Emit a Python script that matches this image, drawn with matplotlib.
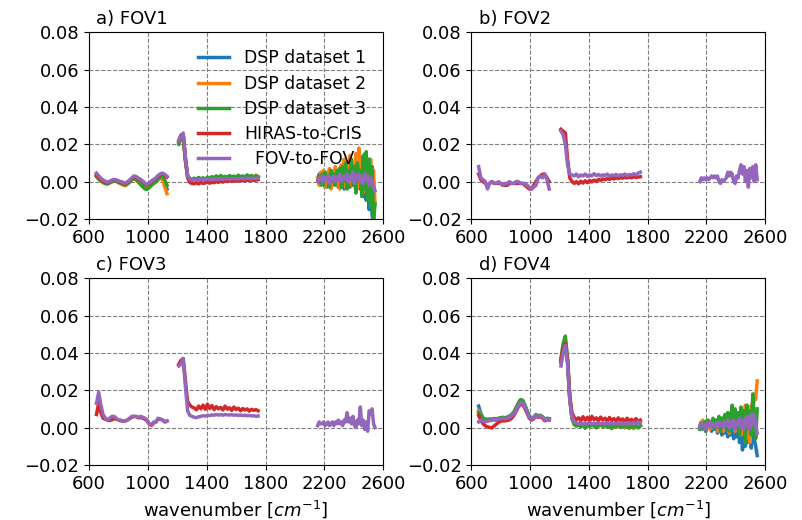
import numpy as np
import matplotlib
matplotlib.use("Agg")
import matplotlib.pyplot as plt

# spectral sample grids for the three bands [cm^-1]
wn_lw = np.arange(650, 1131, 15)
wn_mw = np.arange(1210, 1751, 15)
wn_sw = np.arange(2155, 2546, 10)

series_labels = ["DSP dataset 1", "DSP dataset 2", "DSP dataset 3",
                 "HIRAS-to-CrIS", "  FOV-to-FOV"]
panel_titles = ["a) FOV1", "b) FOV2", "c) FOV3", "d) FOV4"]

# ---------------- FOV1 ----------------
fov1_dsp1_lw = [0.0030, 0.0018, 0.0006, -0.0002, -0.0008, -0.0010, -0.0005, 0.0002, 0.0005, 0.0003, -0.0002,
                -0.0008, -0.0012, -0.0016, -0.0010, 0.0000, 0.0012, 0.0020, 0.0014, 0.0002, -0.0010, -0.0020,
                -0.0030, -0.0033, -0.0025, -0.0015, -0.0008, 0.0002, 0.0018, 0.0028, 0.0030, -0.0010, -0.0040]
fov1_dsp2_lw = [0.0025, 0.0012, 0.0002, -0.0006, -0.0012, -0.0014, -0.0008, -0.0002, 0.0002, 0.0000, -0.0006,
                -0.0012, -0.0018, -0.0022, -0.0015, -0.0004, 0.0008, 0.0015, 0.0008, -0.0004, -0.0016, -0.0026,
                -0.0034, -0.0036, -0.0028, -0.0018, -0.0010, -0.0002, 0.0010, 0.0016, 0.0012, -0.0030, -0.0065]
fov1_dsp3_lw = [0.0028, 0.0015, 0.0004, -0.0004, -0.0010, -0.0012, -0.0006, 0.0000, 0.0004, 0.0002, -0.0004,
                -0.0010, -0.0015, -0.0019, -0.0012, -0.0002, 0.0010, 0.0017, 0.0010, -0.0002, -0.0014, -0.0028,
                -0.0040, -0.0042, -0.0032, -0.0020, -0.0010, 0.0000, 0.0014, 0.0024, 0.0026, 0.0008, -0.0020]
fov1_hiras_lw = [0.0035, 0.0022, 0.0010, 0.0002, -0.0004, -0.0006, -0.0002, 0.0005, 0.0008, 0.0006, 0.0001,
                 -0.0003, -0.0007, -0.0011, -0.0005, 0.0005, 0.0016, 0.0026, 0.0023, 0.0014, 0.0008, -0.0001,
                 -0.0012, -0.0018, -0.0012, 0.0000, 0.0008, 0.0016, 0.0028, 0.0037, 0.0040, 0.0033, 0.0024]
fov1_fov_lw = [0.0045, 0.0030, 0.0018, 0.0008, 0.0002, -0.0003, 0.0001, 0.0008, 0.0011, 0.0009, 0.0004,
               0.0000, -0.0004, -0.0008, -0.0002, 0.0008, 0.0020, 0.0030, 0.0027, 0.0018, 0.0012, 0.0003,
               -0.0008, -0.0014, -0.0008, 0.0004, 0.0012, 0.0020, 0.0033, 0.0042, 0.0045, 0.0038, 0.0028]

fov1_dsp1_mw = [0.021, 0.024, 0.025, 0.012, 0.003, 0.0015, 0.0008, 0.0016, 0.0010, 0.0020, 0.0012, 0.0018,
                0.0008, 0.0022, 0.0014, 0.0025, 0.0016, 0.0028, 0.0018, 0.0030, 0.0020, 0.0026, 0.0018, 0.0030,
                0.0022, 0.0027, 0.0018, 0.0032, 0.0022, 0.0028, 0.0020, 0.0033, 0.0024, 0.0030, 0.0020, 0.0032, 0.0026]
fov1_dsp2_mw = [0.021, 0.023, 0.025, 0.012, 0.003, 0.0012, 0.0005, 0.0014, 0.0008, 0.0018, 0.0010, 0.0016,
                0.0006, 0.0020, 0.0012, 0.0022, 0.0014, 0.0026, 0.0016, 0.0028, 0.0018, 0.0024, 0.0016, 0.0028,
                0.0020, 0.0025, 0.0016, 0.0030, 0.0020, 0.0026, 0.0018, 0.0031, 0.0022, 0.0028, 0.0018, 0.0034, 0.0024]
fov1_dsp3_mw = [0.020, 0.023, 0.024, 0.011, 0.003, 0.0016, 0.0010, 0.0018, 0.0012, 0.0022, 0.0014, 0.0020,
                0.0010, 0.0024, 0.0016, 0.0026, 0.0018, 0.0030, 0.0020, 0.0032, 0.0022, 0.0028, 0.0020, 0.0032,
                0.0024, 0.0029, 0.0020, 0.0034, 0.0024, 0.0030, 0.0022, 0.0035, 0.0026, 0.0032, 0.0022, 0.0030, 0.0024]
fov1_hiras_mw = [0.022, 0.025, 0.025, 0.012, 0.002, -0.0005, -0.0010, -0.0012, -0.0006, -0.0013, -0.0004,
                 -0.0010, -0.0007, -0.0002, -0.0009, -0.0003, -0.0006, 0.0000, -0.0004, 0.0002, -0.0003, 0.0003,
                 0.0000, 0.0004, 0.0001, 0.0005, 0.0002, 0.0006, 0.0003, 0.0007, 0.0004, 0.0008, 0.0005, 0.0009,
                 0.0006, 0.0008, 0.0010]
fov1_fov_mw = [0.022, 0.024, 0.026, 0.013, 0.003, 0.0012, 0.0008, 0.0010, 0.0012, 0.0009, 0.0013, 0.0011,
               0.0010, 0.0014, 0.0012, 0.0011, 0.0015, 0.0013, 0.0016, 0.0014, 0.0012, 0.0016, 0.0015, 0.0013,
               0.0017, 0.0015, 0.0016, 0.0014, 0.0018, 0.0016, 0.0015, 0.0019, 0.0017, 0.0016, 0.0018, 0.0017, 0.0019]

fov1_dsp1_sw = [0.001, 0.004, -0.002, 0.005, 0.000, 0.004, -0.003, 0.005, 0.001, 0.006, -0.002, 0.004, 0.002,
                0.006, -0.003, 0.007, 0.000, 0.005, -0.004, 0.008, 0.001, 0.006, -0.003, 0.009, 0.002, 0.004,
                -0.006, 0.010, 0.003, -0.004, 0.008, -0.008, 0.006, -0.010, 0.004, -0.015, 0.002, -0.018,
                -0.022, -0.027]
fov1_dsp2_sw = [0.002, -0.002, 0.005, 0.000, 0.006, -0.003, 0.004, 0.001, 0.007, -0.004, 0.005, 0.000, 0.008,
                -0.002, 0.006, -0.004, 0.009, 0.002, 0.012, -0.003, 0.010, 0.000, 0.014, -0.002, 0.008, 0.004,
                0.015, -0.004, 0.018, 0.002, 0.012, -0.006, 0.015, 0.000, 0.010, -0.008, 0.012, -0.004, 0.006,
                -0.012]
fov1_dsp3_sw = [0.000, 0.003, -0.001, 0.004, -0.002, 0.005, 0.001, 0.003, -0.003, 0.006, 0.000, 0.004, -0.002,
                0.006, 0.001, 0.007, -0.003, 0.008, 0.000, 0.010, -0.004, 0.006, 0.002, 0.012, -0.002, 0.008,
                -0.006, 0.010, 0.003, 0.006, -0.008, 0.014, -0.004, 0.016, -0.010, 0.012, -0.014, 0.008,
                -0.022, -0.012]
fov1_fov_sw = [0.000, 0.002, 0.001, 0.003, 0.000, 0.002, 0.001, 0.003, -0.001, 0.002, 0.001, 0.003, 0.000,
               0.002, 0.001, 0.004, 0.000, 0.002, 0.003, 0.001, 0.004, 0.000, 0.003, 0.001, 0.005, -0.001,
               0.003, 0.002, 0.004, 0.000, 0.003, -0.001, 0.004, 0.001, 0.003, -0.002, 0.002, 0.000, -0.003,
               -0.005]

# ---------------- FOV2 ----------------
fov2_hiras_lw = [0.004, 0.001, 0.000, -0.001, -0.002, -0.001, 0.000, -0.001, -0.001, -0.001, -0.001, -0.002,
                 -0.002, -0.002, -0.001, -0.001, -0.001, -0.001, -0.001, -0.001, -0.001, -0.002, -0.003,
                 -0.004, -0.004, -0.002, 0.000, 0.002, 0.003, 0.004, 0.004, 0.002, 0.000]
fov2_fov_lw = [0.008, 0.002, 0.001, 0.000, -0.004, -0.001, 0.000, -0.001, -0.001, 0.000, -0.001, -0.002,
               -0.001, -0.001, 0.000, -0.001, -0.001, 0.000, 0.000, -0.001, -0.001, -0.001, -0.002, -0.003,
               -0.004, -0.003, -0.002, 0.002, 0.003, 0.002, 0.004, 0.001, -0.004]
fov2_hiras_mw = [0.028, 0.027, 0.026, 0.012, 0.002, 0.000, -0.001, 0.000, -0.0012, 0.0002, -0.0008, 0.0004,
                 -0.0006, 0.0006, -0.0002, 0.0008, 0.0000, 0.0012, 0.0006, 0.0014, 0.0010, 0.0016, 0.0012,
                 0.0018, 0.0014, 0.0020, 0.0016, 0.0022, 0.0018, 0.0022, 0.0020, 0.0024, 0.0020, 0.0026,
                 0.0022, 0.0024, 0.0026]
fov2_fov_mw = [0.027, 0.025, 0.020, 0.009, 0.004, 0.0035, 0.003, 0.004, 0.0025, 0.0035, 0.003, 0.004, 0.0028,
               0.0036, 0.003, 0.0042, 0.0032, 0.0038, 0.003, 0.0036, 0.0032, 0.004, 0.0028, 0.0035, 0.0032,
               0.0038, 0.003, 0.0036, 0.0034, 0.004, 0.0032, 0.0038, 0.0035, 0.0042, 0.0036, 0.0045, 0.005]
fov2_fov_sw = [0.000, 0.002, 0.001, 0.002, 0.001, 0.002, 0.001, 0.002, 0.003, 0.002, 0.003, 0.002, 0.003,
               0.000, -0.001, 0.001, 0.000, 0.001, 0.002, 0.005, 0.003, 0.005, 0.004, 0.000, -0.001, 0.003,
               0.002, 0.006, 0.009, 0.004, 0.008, 0.000, 0.006, -0.003, 0.007, 0.002, 0.008, 0.000, 0.009,
               0.001]

# ---------------- FOV3 ----------------
fov3_hiras_lw = [0.007, 0.013, 0.008, 0.005, 0.0045, 0.004, 0.0038, 0.0042, 0.0048, 0.0045, 0.004, 0.0036,
                 0.0034, 0.0035, 0.004, 0.0048, 0.0055, 0.006, 0.0058, 0.0052, 0.0054, 0.005, 0.0045, 0.0035,
                 0.0018, 0.0012, 0.0025, 0.003, 0.0048, 0.0045, 0.004, 0.003, 0.0035]
fov3_fov_lw = [0.013, 0.019, 0.012, 0.007, 0.005, 0.004, 0.005, 0.006, 0.006, 0.005, 0.004, 0.004, 0.0035,
               0.0035, 0.004, 0.005, 0.006, 0.006, 0.006, 0.0055, 0.006, 0.0055, 0.005, 0.004, 0.002, 0.0015,
               0.003, 0.003, 0.005, 0.0045, 0.004, 0.003, 0.0035]
fov3_hiras_mw = [0.034, 0.036, 0.037, 0.025, 0.014, 0.012, 0.011, 0.0105, 0.0095, 0.0115, 0.010, 0.012,
                 0.0098, 0.0125, 0.0102, 0.0118, 0.0096, 0.0112, 0.0100, 0.0108, 0.0094, 0.0115, 0.0098,
                 0.0106, 0.0092, 0.0110, 0.0096, 0.0104, 0.0090, 0.0102, 0.0094, 0.0100, 0.0088, 0.0098,
                 0.0092, 0.0096, 0.0090]
fov3_fov_mw = [0.033, 0.034, 0.037, 0.022, 0.009, 0.0065, 0.006, 0.0055, 0.0053, 0.0058, 0.006, 0.0063,
               0.0062, 0.0066, 0.0064, 0.0068, 0.0066, 0.007, 0.0067, 0.0069, 0.0066, 0.007, 0.0068, 0.0067,
               0.0069, 0.0066, 0.0068, 0.0065, 0.0067, 0.0064, 0.0066, 0.0063, 0.0065, 0.0062, 0.0064, 0.006,
               0.0062]
fov3_fov_sw = [0.001, 0.003, 0.002, 0.002, 0.003, 0.001, 0.002, 0.003, 0.001, 0.002, 0.003, 0.001, 0.003,
               0.002, 0.004, 0.002, 0.003, 0.001, 0.004, 0.003, 0.008, 0.003, 0.005, 0.002, 0.006, 0.001,
               0.000, 0.004, 0.002, 0.011, 0.001, 0.004, -0.001, 0.003, -0.002, 0.009, 0.007, 0.010, 0.002,
               0.000]

# ---------------- FOV4 ----------------
fov4_dsp1_lw = [0.0115, 0.0075, 0.005, 0.0038, 0.0036, 0.0038, 0.004, 0.0043, 0.0042, 0.0046, 0.005, 0.0052,
                0.005, 0.0053, 0.0058, 0.0066, 0.008, 0.0102, 0.0125, 0.0142, 0.014, 0.0116, 0.0088, 0.006,
                0.0048, 0.0055, 0.0068, 0.006, 0.0064, 0.0056, 0.0042, 0.0048, 0.0045]
fov4_dsp2_lw = [0.009, 0.0065, 0.0045, 0.0035, 0.0034, 0.0037, 0.0039, 0.0042, 0.0041, 0.0045, 0.0049,
                0.0051, 0.0049, 0.0052, 0.0057, 0.0064, 0.0078, 0.010, 0.0123, 0.014, 0.0138, 0.0114, 0.0086,
                0.0058, 0.0046, 0.0053, 0.0066, 0.0058, 0.0062, 0.0054, 0.004, 0.0046, 0.0044]
fov4_dsp3_lw = [0.008, 0.0065, 0.005, 0.0045, 0.0045, 0.0046, 0.0046, 0.0048, 0.0046, 0.005, 0.0053, 0.0055,
                0.0053, 0.0056, 0.0062, 0.007, 0.0085, 0.0108, 0.0132, 0.015, 0.0146, 0.012, 0.009, 0.0062,
                0.005, 0.0056, 0.007, 0.0062, 0.0066, 0.0058, 0.0044, 0.005, 0.0048]
fov4_hiras_lw = [0.0065, 0.004, 0.002, 0.001, 0.0004, 0.0000, -0.0002, 0.0008, 0.0018, 0.0028, 0.0034,
                 0.0036, 0.0036, 0.0038, 0.0042, 0.005, 0.0065, 0.0088, 0.011, 0.0126, 0.0124, 0.0102, 0.0076,
                 0.005, 0.004, 0.0048, 0.006, 0.0055, 0.0058, 0.005, 0.0036, 0.0042, 0.004]
fov4_fov_lw = [0.003, 0.004, 0.0035, 0.003, 0.0035, 0.004, 0.004, 0.0042, 0.004, 0.0045, 0.0048, 0.005,
               0.0048, 0.005, 0.0055, 0.0062, 0.0075, 0.0095, 0.0118, 0.0135, 0.0132, 0.011, 0.0082, 0.0055,
               0.0045, 0.0052, 0.0065, 0.0058, 0.0062, 0.0055, 0.004, 0.0045, 0.0042]

fov4_dsp1_mw = [0.035, 0.043, 0.046, 0.035, 0.015, 0.005, 0.002, 0.0012, 0.002, 0.0008, 0.0022, 0.0010,
                0.0018, 0.0006, 0.0020, 0.0012, 0.0016, 0.0004, 0.0020, 0.0010, 0.0016, 0.0006, 0.0018, 0.0008,
                0.0014, 0.0002, 0.0018, 0.0008, 0.0012, 0.0000, 0.0016, 0.0006, 0.0012, -0.0004, 0.0016,
                0.0004, 0.0010]
fov4_dsp2_mw = [0.036, 0.044, 0.047, 0.036, 0.016, 0.005, 0.0018, 0.0010, 0.0018, 0.0006, 0.0020, 0.0008,
                0.0016, 0.0004, 0.0018, 0.0010, 0.0014, 0.0002, 0.0018, 0.0008, 0.0014, 0.0004, 0.0016, 0.0006,
                0.0012, 0.0000, 0.0016, 0.0006, 0.0010, -0.0002, 0.0014, 0.0004, 0.0010, -0.0006, 0.0014,
                0.0002, 0.0008]
fov4_dsp3_mw = [0.037, 0.045, 0.049, 0.037, 0.016, 0.005, 0.0016, 0.0008, 0.0016, 0.0004, 0.0018, -0.0004,
                0.0014, 0.0006, 0.0016, 0.0008, -0.0002, 0.0012, 0.0016, 0.0006, 0.0012, 0.0002, 0.0014,
                -0.0006, 0.0010, 0.0004, 0.0014, 0.0000, 0.0008, 0.0004, 0.0012, -0.0004, 0.0008, 0.0002,
                0.0012, -0.0002, 0.0010]
fov4_hiras_mw = [0.036, 0.042, 0.045, 0.036, 0.017, 0.008, 0.0055, 0.0042, 0.0052, 0.0036, 0.0058, 0.0040,
                 0.0055, 0.0034, 0.0060, 0.0042, 0.0052, 0.0036, 0.0056, 0.0040, 0.0050, 0.0034, 0.0054,
                 0.0038, 0.0048, 0.0032, 0.0052, 0.0036, 0.0046, 0.0030, 0.0050, 0.0034, 0.0044, 0.0028,
                 0.0048, 0.0032, 0.0040]
fov4_fov_mw = [0.033, 0.040, 0.044, 0.034, 0.015, 0.006, 0.003, 0.0025, 0.002, 0.0024, 0.0018, 0.0022,
               0.0020, 0.0025, 0.0019, 0.0023, 0.0021, 0.0026, 0.0020, 0.0024, 0.0019, 0.0025, 0.0021, 0.0023,
               0.0018, 0.0024, 0.0020, 0.0026, 0.0019, 0.0023, 0.0021, 0.0025, 0.0020, 0.0028, 0.0022, 0.0030,
               0.0026]

fov4_dsp1_sw = [0.001, 0.003, -0.001, 0.003, -0.002, 0.002, 0.000, 0.003, -0.002, 0.002, -0.001, 0.003,
                -0.003, 0.002, 0.000, -0.004, 0.002, -0.003, 0.003, -0.005, 0.001, -0.004, 0.004, -0.006, 0.002,
                -0.005, 0.004, -0.008, 0.003, -0.012, 0.002, -0.010, 0.005, -0.008, 0.003, -0.011, 0.004,
                -0.006, -0.010, -0.015]
fov4_dsp2_sw = [0.000, 0.002, 0.004, -0.001, 0.003, 0.001, 0.004, -0.001, 0.003, 0.000, 0.004, 0.001, -0.002,
                0.004, 0.002, 0.005, -0.002, 0.004, 0.001, 0.006, -0.003, 0.005, 0.002, 0.007, -0.002, 0.006,
                0.003, 0.008, -0.004, 0.009, 0.002, 0.012, -0.006, 0.006, -0.008, 0.012, 0.003, 0.018, 0.015,
                0.025]
fov4_dsp3_sw = [-0.001, 0.002, 0.000, 0.003, -0.002, 0.004, 0.001, 0.003, 0.000, 0.005, -0.001, 0.004, 0.002,
                0.006, -0.002, 0.005, 0.003, 0.007, 0.000, 0.008, -0.002, 0.006, 0.012, 0.004, 0.010, 0.002,
                0.008, -0.004, 0.011, 0.003, 0.009, -0.008, 0.012, 0.004, 0.009, -0.004, 0.018, 0.002, -0.006,
                0.010]
fov4_fov_sw = [0.000, 0.002, 0.001, 0.002, -0.001, 0.002, 0.001, 0.003, 0.000, 0.002, 0.001, 0.002, 0.000,
               0.003, 0.001, 0.002, 0.000, 0.003, 0.001, 0.004, 0.000, 0.003, 0.001, 0.004, -0.001, 0.003,
               0.002, 0.005, 0.000, 0.004, -0.001, 0.005, 0.001, 0.006, -0.001, 0.007, 0.002, 0.007, 0.001,
               -0.003]

# per panel: list over the five methods, each a list of (grid, values) band segments
panels = [
    [
        [(wn_lw, fov1_dsp1_lw), (wn_mw, fov1_dsp1_mw), (wn_sw, fov1_dsp1_sw)],
        [(wn_lw, fov1_dsp2_lw), (wn_mw, fov1_dsp2_mw), (wn_sw, fov1_dsp2_sw)],
        [(wn_lw, fov1_dsp3_lw), (wn_mw, fov1_dsp3_mw), (wn_sw, fov1_dsp3_sw)],
        [(wn_lw, fov1_hiras_lw), (wn_mw, fov1_hiras_mw)],
        [(wn_lw, fov1_fov_lw), (wn_mw, fov1_fov_mw), (wn_sw, fov1_fov_sw)],
    ],
    [
        [], [], [],
        [(wn_lw, fov2_hiras_lw), (wn_mw, fov2_hiras_mw)],
        [(wn_lw, fov2_fov_lw), (wn_mw, fov2_fov_mw), (wn_sw, fov2_fov_sw)],
    ],
    [
        [], [], [],
        [(wn_lw, fov3_hiras_lw), (wn_mw, fov3_hiras_mw)],
        [(wn_lw, fov3_fov_lw), (wn_mw, fov3_fov_mw), (wn_sw, fov3_fov_sw)],
    ],
    [
        [(wn_lw, fov4_dsp1_lw), (wn_mw, fov4_dsp1_mw), (wn_sw, fov4_dsp1_sw)],
        [(wn_lw, fov4_dsp2_lw), (wn_mw, fov4_dsp2_mw), (wn_sw, fov4_dsp2_sw)],
        [(wn_lw, fov4_dsp3_lw), (wn_mw, fov4_dsp3_mw), (wn_sw, fov4_dsp3_sw)],
        [(wn_lw, fov4_hiras_lw), (wn_mw, fov4_hiras_mw)],
        [(wn_lw, fov4_fov_lw), (wn_mw, fov4_fov_mw), (wn_sw, fov4_fov_sw)],
    ],
]

colors = ["#1f77b4", "#ff7f0e", "#2ca02c", "#d62728", "#9467bd"]

fig, axes = plt.subplots(2, 2, figsize=(8.03, 5.2), dpi=100)
fig.subplots_adjust(left=0.111, right=0.953, top=0.938, bottom=0.106,
                    wspace=0.30, hspace=0.318)

for ax, title, methods in zip(axes.flat, panel_titles, panels):
    for color, label, segments in zip(colors, series_labels, methods):
        for k, (x, y) in enumerate(segments):
            ax.plot(x, y, color=color, lw=2.5,
                    label=label if k == 0 else None)
    ax.set_xlim(600, 2600)
    ax.set_ylim(-0.02, 0.08)
    ax.set_xticks([600, 1000, 1400, 1800, 2200, 2600])
    ax.set_yticks([-0.02, 0.0, 0.02, 0.04, 0.06, 0.08])
    ax.tick_params(labelsize=13)
    ax.grid(True, color="gray", linestyle="--", linewidth=0.8)
    ax.set_title(title, loc="left", x=0.025, fontsize=13)

for ax in axes[1]:
    ax.set_xlabel("wavenumber [$cm^{-1}$]", fontsize=13)

axes[0, 0].legend(loc="upper right", frameon=False, fontsize=12.4,
                  handlelength=1.8, handletextpad=0.85,
                  labelspacing=0.42, borderaxespad=0.6)

fig.savefig("out.png", dpi=100)
